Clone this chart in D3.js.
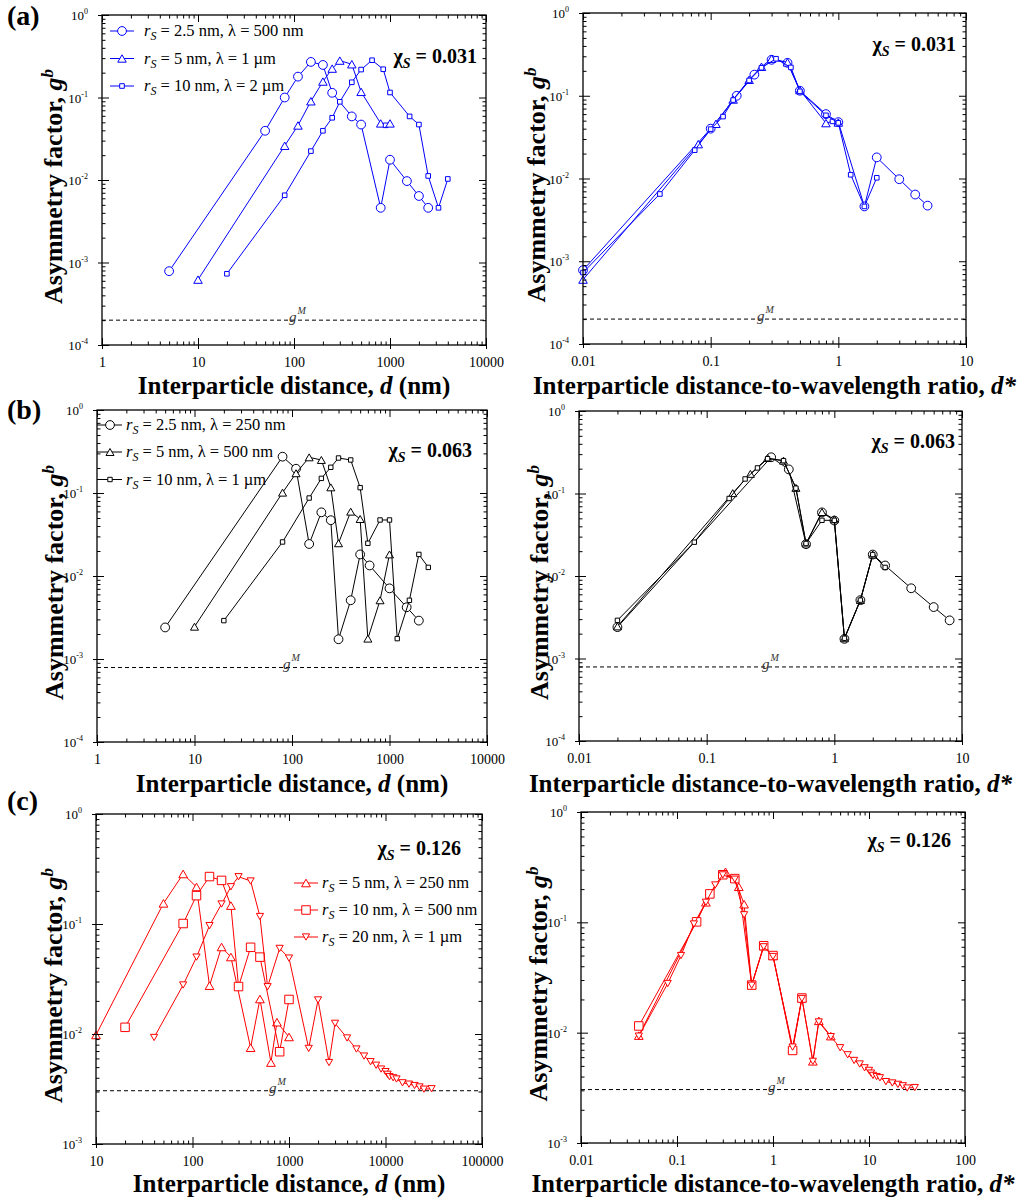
<!DOCTYPE html>
<html>
<head>
<meta charset="utf-8">
<script src="https://cdn.jsdelivr.net/npm/d3@7"></script>
<style>
  body { margin: 0; background: #fff; }
  svg { display: block; }
  text { font-family: "Liberation Serif", "Times New Roman", serif; }
</style>
</head>
<body>
<svg id="chart" width="1025" height="1203"></svg>
<script>
// ---- data ----
// panel (a), chi_S = 0.031
const aDistCircle = [5, 50, 80, 110, 150, 200, 250, 400, 500, 800, 1000, 1500, 2000, 2500];
const aGCircle = [7.85e-4, 0.0395, 0.100, 0.179, 0.270, 0.248, 0.114, 0.059, 0.047, 0.0046, 0.0176, 0.0097, 0.0064, 0.0046];
const aDistTri = [10, 80, 110, 150, 200, 250, 300, 400, 500, 800, 900, 1000];
const aGTri = [6.2e-4, 0.026, 0.0458, 0.090, 0.156, 0.224, 0.280, 0.253, 0.117, 0.0485, 0.046, 0.0485];
const aDistSq = [20, 80, 150, 200, 250, 300, 400, 500, 650, 850, 1000, 1600, 2000, 2500, 3200, 4000];
const aGSq = [7.3e-4, 0.00653, 0.0224, 0.0395, 0.0568, 0.0887, 0.153, 0.218, 0.283, 0.220, 0.115, 0.059, 0.047, 0.0112, 0.0046, 0.0103];

const aRatioCircle = [0.01, 0.1, 0.16, 0.22, 0.3, 0.4, 0.5, 0.8, 1.0, 1.6, 2, 3, 4, 5];
const aRGCircle = [7.8e-4, 0.040, 0.100, 0.180, 0.272, 0.250, 0.115, 0.060, 0.048, 0.0046, 0.0180, 0.0098, 0.0064, 0.0047];
const aRatioTri = [0.01, 0.08, 0.11, 0.15, 0.2, 0.25, 0.3, 0.4, 0.5, 0.8, 0.9, 1.0];
const aRGTri = [6.0e-4, 0.026, 0.0458, 0.090, 0.156, 0.224, 0.280, 0.253, 0.117, 0.0467, 0.049, 0.0475];
const aRatioSq = [0.01, 0.04, 0.075, 0.1, 0.125, 0.15, 0.2, 0.25, 0.325, 0.425, 0.5, 0.8, 1.0, 1.25, 1.6, 2.0];
const aRGSq = [7.3e-4, 0.0065, 0.0220, 0.0395, 0.0560, 0.0887, 0.153, 0.218, 0.280, 0.220, 0.113, 0.058, 0.047, 0.0111, 0.0046, 0.0102];

// panel (b), chi_S = 0.063
const bDistCircle = [5, 80, 110, 150, 200, 250, 300, 400, 500, 625, 1000, 1500, 2000];
const bGCircle = [0.0024, 0.274, 0.196, 0.0243, 0.0585, 0.047, 0.00173, 0.0051, 0.0182, 0.0134, 0.0071, 0.0042, 0.0029];
const bDistTri = [10, 80, 110, 150, 200, 250, 300, 400, 500, 600, 800, 1000];
const bGTri = [0.00245, 0.101, 0.173, 0.269, 0.250, 0.117, 0.0248, 0.0596, 0.0486, 0.00176, 0.0051, 0.0182];
const bDistSq = [20, 80, 150, 200, 250, 300, 400, 500, 600, 800, 1000, 1200, 1600, 2000, 2500];
const bGSq = [0.0029, 0.0257, 0.087, 0.150, 0.204, 0.264, 0.250, 0.116, 0.0248, 0.0473, 0.0473, 0.00176, 0.0051, 0.0182, 0.0127];

const bRatioCircle = [0.02, 0.32, 0.44, 0.6, 0.8, 1.0, 1.2, 1.6, 2.0, 2.5, 4, 6, 8];
const bRGCircle = [0.0024, 0.275, 0.196, 0.0243, 0.0590, 0.047, 0.00173, 0.0051, 0.0182, 0.0134, 0.0071, 0.0042, 0.0029];
const bRatioTri = [0.02, 0.16, 0.22, 0.3, 0.4, 0.5, 0.6, 0.8, 1.0, 1.2, 1.6, 2.0];
const bRGTri = [0.00245, 0.101, 0.173, 0.269, 0.250, 0.117, 0.0248, 0.0596, 0.0486, 0.00176, 0.0051, 0.0182];
const bRatioSq = [0.02, 0.08, 0.15, 0.2, 0.25, 0.3, 0.4, 0.5, 0.6, 0.8, 1.0, 1.2, 1.6, 2.0, 2.5];
const bRGSq = [0.0029, 0.0257, 0.087, 0.150, 0.204, 0.264, 0.250, 0.116, 0.0248, 0.0473, 0.0473, 0.00176, 0.0051, 0.0182, 0.0127];

// panel (c), chi_S = 0.126
const cDistTriUp = [10, 50, 80, 110, 150, 200, 250, 400, 500, 650, 750, 1000];
const cGTriUp = [0.0098, 0.154, 0.285, 0.217, 0.0275, 0.0618, 0.0501, 0.0075, 0.0208, 0.0055, 0.0128, 0.0094];
const cDistSq = [20, 80, 110, 150, 200, 250, 300, 400, 500, 800, 1000];
const cGSq = [0.0115, 0.101, 0.181, 0.270, 0.249, 0.147, 0.027, 0.0614, 0.050, 0.0069, 0.0206];
const cDistTriDn = [40, 80, 110, 150, 200, 250, 300, 400, 500, 600, 800, 1000, 1600, 2000, 2600, 3000, 4000,
  5000, 6000, 7000, 8000, 9000, 10000, 10500, 11000, 12000, 13000, 15000, 17500, 20000, 22500, 25000, 30000];
const cGTriDn = [0.0093, 0.0279, 0.050, 0.0966, 0.152, 0.218, 0.269, 0.246, 0.117, 0.0269, 0.060, 0.049, 0.0074, 0.0204, 0.0055, 0.0125, 0.0092,
  0.0073, 0.0063, 0.0056, 0.0052, 0.0048, 0.00455, 0.0043, 0.0041, 0.0040, 0.0039, 0.0036, 0.0035, 0.0034, 0.0033, 0.00315, 0.00318];

const cRatioTriUp = [0.04, 0.2, 0.32, 0.44, 0.6, 0.8, 1.0, 1.6, 2.0, 2.6, 3.0, 4.0];
const cRGTriUp = [0.0094, 0.152, 0.287, 0.210, 0.027, 0.061, 0.0497, 0.0071, 0.0206, 0.0055, 0.0128, 0.0093];
const cRatioSq = [0.04, 0.16, 0.22, 0.3, 0.4, 0.5, 0.6, 0.8, 1.0, 1.6, 2.0];
const cRGSq = [0.0115, 0.101, 0.181, 0.270, 0.249, 0.146, 0.027, 0.0614, 0.050, 0.0069, 0.0206];
const cRatioTriDn = [0.04, 0.08, 0.11, 0.15, 0.2, 0.25, 0.3, 0.4, 0.5, 0.6, 0.8, 1.0, 1.6, 2.0, 2.6, 3, 4,
  5, 6, 7, 8, 9, 10, 10.5, 11, 12, 13, 15, 17.5, 20, 22.5, 25, 30];
const cRGTriDn = [0.0093, 0.0279, 0.050, 0.0966, 0.152, 0.218, 0.269, 0.246, 0.117, 0.0269, 0.060, 0.049, 0.0074, 0.0204, 0.0055, 0.0125, 0.0092,
  0.0073, 0.0063, 0.0056, 0.0052, 0.0048, 0.00455, 0.0043, 0.0041, 0.0040, 0.0039, 0.0036, 0.0035, 0.0034, 0.0033, 0.00315, 0.00318];

// g^M reference levels
const gM = { a: 2.0e-4, b: 7.9e-4, c: 3.05e-3 };
const chiLabels = { a: "0.031", b: "0.063", c: "0.126" };

// ticks
const xTicksDistAB = [1, 10, 100, 1000, 10000];
const xTicksRatioAB = [0.01, 0.1, 1, 10];
const xTicksDistC = [10, 100, 1000, 10000, 100000];
const xTicksRatioC = [0.01, 0.1, 1, 10, 100];
const yExpAB = [0, -1, -2, -3, -4];
const yExpC = [0, -1, -2, -3];

// legends
const legendA = [" = 2.5 nm, λ = 500 nm", " = 5 nm, λ = 1 µm", " = 10 nm, λ = 2 µm"];
const legendB = [" = 2.5 nm, λ = 250 nm", " = 5 nm, λ = 500 nm", " = 10 nm, λ = 1 µm"];
const legendC = [" = 5 nm, λ = 250 nm", " = 10 nm, λ = 500 nm", " = 20 nm, λ = 1 µm"];

// ---- layout ----
const BLUE = "#0000ff", RED = "#ff0000", BLACK = "#000";
const svg = d3.select("#chart");

const panels = [
  { l: 102, r: 486, t: 15, b: 345, xt: xTicksDistAB, ye: yExpAB, color: BLUE, gm: gM.a, gmX: 289, chi: chiLabels.a, chiX: 477, chiY: 63,
    yTitleX: 62, xTitleY: 394, ratio: false, tag: "(a)", tagY: 25,
    legend: { labels: legendA, x: 122, text: 144, rows: [31, 58.5, 86] },
    series: [
      { x: aDistCircle, y: aGCircle, shape: "circle", s: 8.8 },
      { x: aDistTri, y: aGTri, shape: "up", s: 8.5, odd: { i: 10, shape: "square", s: 4.6 } },
      { x: aDistSq, y: aGSq, shape: "square", s: 4.6 } ] },
  { l: 583, r: 966, t: 13, b: 344, xt: xTicksRatioAB, ye: yExpAB, color: BLUE, gm: gM.a, gmX: 757, chi: chiLabels.a, chiX: 956, chiY: 51,
    yTitleX: 545, xTitleY: 394, ratio: true,
    series: [
      { x: aRatioCircle, y: aRGCircle, shape: "circle", s: 8.8 },
      { x: aRatioTri, y: aRGTri, shape: "up", s: 8.5, odd: { i: 10, shape: "square", s: 4.6 } },
      { x: aRatioSq, y: aRGSq, shape: "square", s: 4.6 } ] },
  { l: 97, r: 487, t: 410, b: 742, xt: xTicksDistAB, ye: yExpAB, color: BLACK, gm: gM.b, gmX: 283, chi: chiLabels.b, chiX: 472, chiY: 457,
    yTitleX: 63, xTitleY: 792, ratio: false, tag: "(b)", tagY: 419,
    legend: { labels: legendB, x: 110, text: 126, rows: [425, 452, 479.5], lineFrom: 97 },
    series: [
      { x: bDistCircle, y: bGCircle, shape: "circle", s: 8.8 },
      { x: bDistTri, y: bGTri, shape: "up", s: 8 },
      { x: bDistSq, y: bGSq, shape: "square", s: 4.4 } ] },
  { l: 579, r: 962, t: 411, b: 741, xt: xTicksRatioAB, ye: yExpAB, color: BLACK, gm: gM.b, gmX: 762, chi: chiLabels.b, chiX: 955, chiY: 448,
    yTitleX: 548, xTitleY: 792, ratio: true,
    series: [
      { x: bRatioCircle, y: bRGCircle, shape: "circle", s: 8.8 },
      { x: bRatioTri, y: bRGTri, shape: "up", s: 8 },
      { x: bRatioSq, y: bRGSq, shape: "square", s: 4.4 } ] },
  { l: 96, r: 482, t: 814, b: 1144, xt: xTicksDistC, ye: yExpC, color: RED, gm: gM.c, gmX: 269, chi: chiLabels.c, chiX: 461, chiY: 855,
    yTitleX: 62, xTitleY: 1192, ratio: false, tag: "(c)", tagY: 810,
    legend: { labels: legendC, x: 306, text: 322, rows: [883, 910, 937] },
    series: [
      { x: cDistTriUp, y: cGTriUp, shape: "up", s: 8.7 },
      { x: cDistSq, y: cGSq, shape: "square", s: 8.5, odd: { i: 5, shape: "up", s: 8.7 } },
      { x: cDistTriDn, y: cGTriDn, shape: "down", s: 7.2 } ] },
  { l: 581, r: 965, t: 812, b: 1143, xt: xTicksRatioC, ye: yExpC, color: RED, gm: gM.c, gmX: 768, chi: chiLabels.c, chiX: 951, chiY: 847,
    yTitleX: 547, xTitleY: 1192, ratio: true,
    series: [
      { x: cRatioTriUp, y: cRGTriUp, shape: "up", s: 8.7 },
      { x: cRatioSq, y: cRGSq, shape: "square", s: 8.5, odd: { i: 5, shape: "up", s: 8.7 } },
      { x: cRatioTriDn, y: cRGTriDn, shape: "down", s: 7.2 } ] }
];

function minorTicks(majors) {
  const out = [];
  for (let i = 0; i < majors.length - 1; i++)
    for (let k = 2; k <= 9; k++) out.push(k * majors[i]);
  return out;
}

// marker path centred on 0,0
function markerPath(shape, s) {
  if (shape === "circle") return d3.arc()({ innerRadius: 0, outerRadius: s / 2, startAngle: 0, endAngle: 2 * Math.PI });
  if (shape === "square") return `M${-s/2},${-s/2}h${s}v${s}h${-s}Z`;
  const h = s * 0.87;
  if (shape === "up") return `M0,${-h/2}L${s/2},${h/2}L${-s/2},${h/2}Z`;
  return `M0,${h/2}L${s/2},${-h/2}L${-s/2},${-h/2}Z`;
}

function drawMarker(g, shape, s, color, px, py) {
  g.append("path")
    .attr("d", markerPath(shape, s))
    .attr("transform", `translate(${px},${py})`)
    .attr("fill", "#fff")
    .attr("stroke", color)
    .attr("stroke-width", 1);
}

function styleAxis(sel) {
  sel.select(".domain").remove();
  sel.selectAll(".tick line").attr("stroke", "#000").attr("stroke-width", 1);
}

function drawPanel(p) {
  const x = d3.scaleLog().domain([p.xt[0], p.xt[p.xt.length - 1]]).range([p.l, p.r]);
  const yMaj = p.ye.map(e => Math.pow(10, e)).sort((a, b) => a - b);
  const y = d3.scaleLog().domain([yMaj[0], yMaj[yMaj.length - 1]]).range([p.b, p.t]);
  const xMin = minorTicks(p.xt), yMin = minorTicks(yMaj);
  const g = svg.append("g");

  // g^M dashed line
  g.append("line")
    .attr("x1", p.l).attr("x2", p.r)
    .attr("y1", y(p.gm)).attr("y2", y(p.gm))
    .attr("stroke", "#000").attr("stroke-width", 1)
    .attr("stroke-dasharray", "4,3");
  const gmText = g.append("text")
    .attr("x", p.gmX).attr("y", y(p.gm) + 2)
    .attr("font-size", 15).attr("font-style", "italic").attr("fill", "#333");
  gmText.append("tspan").text("g");
  gmText.append("tspan").attr("font-size", 10).attr("dy", -8).attr("dx", 1).text("M");

  // series
  p.series.forEach(s => {
    const pts = s.x.map((v, i) => [x(v), y(s.y[i])]);
    g.append("path")
      .attr("d", d3.line()(pts))
      .attr("fill", "none")
      .attr("stroke", p.color)
      .attr("stroke-width", 1);
    pts.forEach((pt, i) => {
      if (s.odd && s.odd.i === i) drawMarker(g, s.odd.shape, s.odd.s, p.color, pt[0], pt[1]);
      else drawMarker(g, s.shape, s.s, p.color, pt[0], pt[1]);
    });
  });

  // axes: inward ticks on all four sides
  const bottom = g.append("g").attr("transform", `translate(0,${p.b})`);
  bottom.call(d3.axisBottom(x).tickValues(p.xt).tickSizeInner(-7).tickSizeOuter(0).tickPadding(12)
    .tickFormat(d => String(d)));
  styleAxis(bottom);
  bottom.attr("font-size", 14).attr("font-family", "Liberation Serif, serif");
  bottom.selectAll("text").attr("fill", "#000");
  const bottomOut = g.append("g").attr("transform", `translate(0,${p.b})`);
  bottomOut.call(d3.axisBottom(x).tickValues(p.xt).tickSize(4).tickFormat(""));
  styleAxis(bottomOut);
  const bottomMin = g.append("g").attr("transform", `translate(0,${p.b})`);
  bottomMin.call(d3.axisBottom(x).tickValues(xMin).tickSize(-3.5).tickFormat(""));
  styleAxis(bottomMin);

  const top = g.append("g").attr("transform", `translate(0,${p.t})`);
  top.call(d3.axisTop(x).tickValues(p.xt).tickSize(-7).tickFormat(""));
  styleAxis(top);
  const topMin = g.append("g").attr("transform", `translate(0,${p.t})`);
  topMin.call(d3.axisTop(x).tickValues(xMin).tickSize(-3.5).tickFormat(""));
  styleAxis(topMin);

  const left = g.append("g").attr("transform", `translate(${p.l},0)`);
  left.call(d3.axisLeft(y).tickValues(yMaj).tickSizeInner(-7).tickSizeOuter(0).tickFormat(""));
  styleAxis(left);
  left.selectAll(".tick").each(function (d) {
    const t = d3.select(this).append("text")
      .attr("x", -14).attr("y", 4.5)
      .attr("text-anchor", "end")
      .attr("font-size", 13)
      .attr("font-family", "Liberation Serif, serif")
      .attr("fill", "#000");
    t.append("tspan").text("10");
    t.append("tspan").attr("font-size", 8).attr("dy", -6).text(String(Math.round(Math.log10(d))));
  });
  const leftOut = g.append("g").attr("transform", `translate(${p.l},0)`);
  leftOut.call(d3.axisLeft(y).tickValues(yMaj).tickSize(4).tickFormat(""));
  styleAxis(leftOut);
  const leftMin = g.append("g").attr("transform", `translate(${p.l},0)`);
  leftMin.call(d3.axisLeft(y).tickValues(yMin).tickSize(-3.5).tickFormat(""));
  styleAxis(leftMin);

  const right = g.append("g").attr("transform", `translate(${p.r},0)`);
  right.call(d3.axisRight(y).tickValues(yMaj).tickSize(-7).tickFormat(""));
  styleAxis(right);
  const rightMin = g.append("g").attr("transform", `translate(${p.r},0)`);
  rightMin.call(d3.axisRight(y).tickValues(yMin).tickSize(-3.5).tickFormat(""));
  styleAxis(rightMin);

  // frame
  g.append("rect")
    .attr("x", p.l).attr("y", p.t)
    .attr("width", p.r - p.l).attr("height", p.b - p.t)
    .attr("fill", "none").attr("stroke", "#000").attr("stroke-width", 1.3);

  // chi_S label
  const chi = g.append("text")
    .attr("x", p.chiX).attr("y", p.chiY)
    .attr("text-anchor", "end")
    .attr("font-size", 20).attr("font-weight", "bold");
  chi.append("tspan").text("χ");
  chi.append("tspan").attr("font-size", 14).attr("font-style", "italic").attr("dy", 5).text("S");
  chi.append("tspan").attr("dy", -5).text(" = " + p.chi);

  // y title
  const yt = g.append("text")
    .attr("transform", `translate(${p.yTitleX},${(p.t + p.b) / 2 + 6.5}) rotate(-90)`)
    .attr("text-anchor", "middle")
    .attr("font-size", 26).attr("font-weight", "bold");
  yt.append("tspan").text("Asymmetry factor, ");
  yt.append("tspan").attr("font-style", "italic").text("g");
  yt.append("tspan").attr("font-style", "italic").attr("font-size", 17).attr("dy", -9).text("b");

  // x title
  const xtl = g.append("text")
    .attr("x", (p.l + p.r) / 2).attr("y", p.xTitleY)
    .attr("text-anchor", "middle")
    .attr("font-size", 25).attr("font-weight", "bold");
  if (p.ratio) {
    xtl.append("tspan").text("Interparticle distance-to-wavelength ratio, ");
    xtl.append("tspan").attr("font-style", "italic").text("d*");
  } else {
    xtl.append("tspan").text("Interparticle distance, ");
    xtl.append("tspan").attr("font-style", "italic").text("d");
    xtl.append("tspan").text(" (nm)");
  }

  // panel tag
  if (p.tag) {
    svg.append("text").attr("x", 7).attr("y", p.tagY)
      .attr("font-size", 28).attr("font-weight", "bold").text(p.tag);
  }

  // legend
  if (p.legend) {
    const L = p.legend;
    p.series.forEach((s, i) => {
      const ry = L.rows[i];
      const x0 = L.lineFrom !== undefined ? L.lineFrom : L.x - 12;
      g.append("line").attr("x1", x0).attr("x2", L.x + 12).attr("y1", ry).attr("y2", ry)
        .attr("stroke", p.color).attr("stroke-width", 1);
      drawMarker(g, s.shape, s.s, p.color, L.x, ry);
      const t = g.append("text").attr("x", L.text).attr("y", ry + 5).attr("font-size", 16.5);
      t.append("tspan").attr("font-style", "italic").text("r");
      t.append("tspan").attr("font-style", "italic").attr("font-size", 12).attr("dy", 4).text("S");
      t.append("tspan").attr("dy", -4).text(L.labels[i]);
    });
  }
}

panels.forEach(drawPanel);
</script>
</body>
</html>
